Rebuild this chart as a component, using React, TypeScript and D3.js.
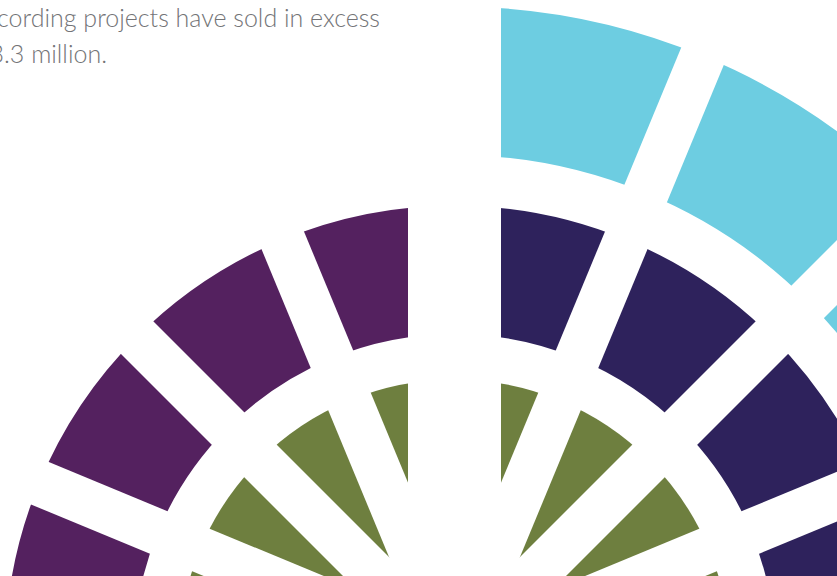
import React from 'react';
import * as d3 from 'd3';

// sectors counted from the top, 8 per half
const sectors = ['1', '2', '3', '4', '5', '6', '7', '8'];
const ringNames = ['inner', 'middle', 'outer'];
const leftRings = ['inner', 'middle'];
const rightRings = ['inner', 'middle', 'outer'];
const captionLines = ['cording projects have sold in excess', '3.3 million.'];

const width = 837;
const height = 576;
const cx = 454.5;
const cy = 655;

const radius = d3.scaleOrdinal<string, [number, number]>()
  .domain(ringNames)
  .range([[0, 275.5], [321, 449.5], [500, 648.5]]);

const colour = d3.scaleOrdinal<string, string>()
  .domain(['left-inner', 'left-middle', 'right-inner', 'right-middle', 'right-outer'])
  .range(['#6e7f3f', '#54215f', '#6e7f3f', '#2e225c', '#6dcde1']);

const angleRight = d3.scaleBand<string>().domain(sectors).range([0, Math.PI]);
const angleLeft = d3.scaleBand<string>().domain(sectors).range([0, -Math.PI]);

const arc = d3.arc<any>();

const App: React.FC = () => {
  const halves = [
    { side: 'left', rings: leftRings, angle: angleLeft },
    { side: 'right', rings: rightRings, angle: angleRight },
  ];

  const pieces = halves.flatMap(h =>
    h.rings.flatMap(ring =>
      sectors.map(s => {
        const a0 = h.angle(s) || 0;
        const [r0, r1] = radius(ring);
        return {
          key: `${h.side}-${ring}-${s}`,
          fill: colour(`${h.side}-${ring}`),
          d: arc({ innerRadius: r0, outerRadius: r1, startAngle: a0, endAngle: a0 + h.angle.bandwidth() }) || '',
        };
      })
    )
  );

  // white gaps between sectors, the middle one is twice as wide
  const bw = angleRight.bandwidth();
  const cuts = [0, ...sectors.map(s => (angleRight(s) || 0) + bw), ...sectors.map(s => angleLeft(s) || 0)];

  return (
    <svg width={width} height={height} style={{ position: 'absolute', left: 0, top: 0, background: '#fff' }}>
      <g transform={`translate(${cx},${cy})`}>
        {pieces.map(p => (
          <path key={p.key} d={p.d} fill={p.fill} />
        ))}
        {cuts.map((a, i) => {
          const w = Math.abs(a) < 1e-6 || Math.abs(Math.abs(a) - Math.PI) < 1e-6 ? 93 : 46;
          return (
            <rect key={i} x={-w / 2} y={-720} width={w} height={720} fill="#fff"
              transform={`rotate(${(a * 180) / Math.PI})`} />
          );
        })}
      </g>
      <g fill="#737477" textAnchor="end" style={{ fontFamily: 'Lato, sans-serif', fontSize: 25, fontWeight: 300 }}>
        <text x={380} y={27}>{captionLines[0]}</text>
        <text x={107} y={63}>{captionLines[1]}</text>
      </g>
    </svg>
  );
};

export default App;
